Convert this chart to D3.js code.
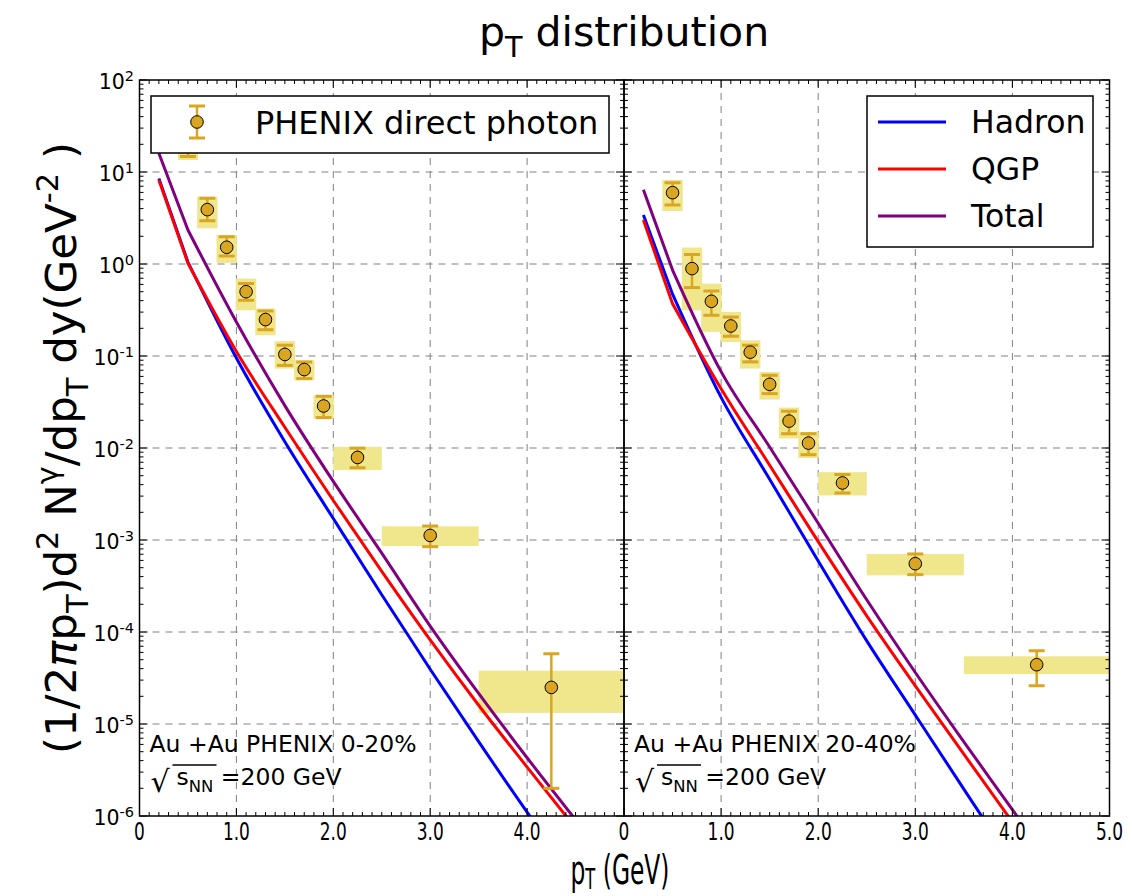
<!DOCTYPE html>
<html><head><meta charset="utf-8">
<script src="https://cdn.jsdelivr.net/npm/d3@7"></script>
<style>body{margin:0;background:#fff} text{font-family:"DejaVu Sans",sans-serif;fill:#000}</style>
</head><body><svg id="c" width="1132" height="896"></svg>
<script>
// ---------------- data ----------------
const curvePT = [0.2, 0.5, 1.0, 1.5, 2.0, 2.5, 3.0, 3.5, 4.0, 4.5];
const hadron020  = [8.5, 1.05, 0.095, 0.0117, 1.71e-3, 2.54e-4, 3.94e-5, 6.43e-6, 1.1e-6, 2.0e-7];
const qgp020     = [8.2, 1.02, 0.112, 0.0168, 2.69e-3, 4.57e-4, 8.2e-5, 1.6e-5, 3.4e-6, 7.4e-7];
const total020   = [16, 2.34, 0.234, 0.0289, 4.33e-3, 7.2e-4, 1.16e-4, 2.15e-5, 4.3e-6, 9.1e-7];
const hadron2040 = [3.4, 0.47, 0.0355, 4.58e-3, 5.9e-4, 8.0e-5, 1.25e-5, 1.96e-6, 3.1e-7, 5e-8];
const qgp2040    = [3.0, 0.37, 0.044, 6.5e-3, 9.6e-4, 1.5e-4, 2.6e-5, 4.7e-6, 8.6e-7, 1.6e-7];
const total2040  = [6.4, 0.86, 0.0676, 0.01026, 1.52e-3, 2.24e-4, 3.63e-5, 6.4e-6, 1.17e-6, 2.1e-7];

const dataPT   = [0.5, 0.7, 0.9, 1.1, 1.3, 1.5, 1.7, 1.9, 2.25, 3.0, 4.25];
const binLo    = [0.395, 0.595, 0.795, 0.995, 1.195, 1.395, 1.595, 1.795, 2.0, 2.5, 3.5];
const binHi    = [0.605, 0.805, 1.005, 1.205, 1.405, 1.605, 1.805, 2.005, 2.5, 3.5, 5.0];
const y020     = [20, 3.9, 1.52, 0.50, 0.249, 0.104, 0.0712, 0.0286, 0.0079, 0.00112, 2.5e-5];
const errLo020 = [14.7, 2.96, 1.22, 0.403, 0.193, 0.079, 0.0568, 0.0214, 0.0061, 0.000846, 2.0e-6];
const errHi020 = [27, 5.18, 1.98, 0.612, 0.309, 0.131, 0.086, 0.0365, 0.00996, 0.00142, 5.8e-5];
const sysLo020 = [13.5, 2.44, 1.03, 0.314, 0.168, 0.073, 0.0545, 0.0209, 0.00575, 0.00086, 1.32e-5];
const sysHi020 = [30, 5.39, 2.07, 0.694, 0.328, 0.145, 0.09, 0.0374, 0.0103, 0.00141, 3.8e-5];
const y2040     = [5.96, 0.891, 0.393, 0.212, 0.11, 0.0492, 0.0196, 0.0113, 0.00417, 0.000553, 4.41e-5];
const errLo2040 = [4.38, 0.554, 0.277, 0.164, 0.0863, 0.039, 0.0143, 0.00846, 0.00324, 0.00042, 2.61e-5];
const errHi2040 = [7.65, 1.27, 0.509, 0.265, 0.131, 0.0617, 0.0251, 0.0143, 0.00515, 0.000705, 6.26e-5];
const sysLo2040 = [3.77, 0.314, 0.183, 0.142, 0.073, 0.0336, 0.0127, 0.0078, 0.00305, 0.000413, 3.49e-5];
const sysHi2040 = [8.18, 1.51, 0.612, 0.301, 0.148, 0.067, 0.0275, 0.0149, 0.00546, 0.000705, 5.44e-5];

const xTickLeft  = [0, 1, 2, 3, 4];
const xTickRight = [0, 1, 2, 3, 4, 5];
const xTickText  = ["0", "1.0", "2.0", "3.0", "4.0", "5.0"];
const yTickExp   = [2, 1, 0, -1, -2, -3, -4, -5, -6];
const seriesNames = ["Hadron", "QGP", "Total"];
const seriesColors = ["#0000ff", "#ff0000", "#800080"];

// ---------------- layout ----------------
const svg = d3.select("#c");
const yTop = 80, yBot = 816;
const y = d3.scaleLog().domain([1e-6, 1e2]).range([yBot, yTop]);
const panels = [
  {x: d3.scaleLinear().domain([0, 5]).range([139.5, 624]), ticks: xTickLeft,
   curves: [hadron020, qgp020, total020], yv: y020, eL: errLo020, eH: errHi020, sL: sysLo020, sH: sysHi020,
   label: "Au +Au PHENIX 0-20%"},
  {x: d3.scaleLinear().domain([0, 5]).range([624, 1109.5]), ticks: xTickRight,
   curves: [hadron2040, qgp2040, total2040], yv: y2040, eL: errLo2040, eH: errHi2040, sL: sysLo2040, sH: sysHi2040,
   label: "Au +Au PHENIX 20-40%"}
];
const gold = "#daa520", band = "#f0e68c";

function rich(sel, parts, fs, subOff) {
  let cur = 0;
  const so = subOff === undefined ? 0.28 : subOff;
  parts.forEach(p => {
    const m = p.m || "n";
    const off = m === "sub" ? so * fs : m === "sup" ? -0.42 * fs : 0;
    const ts = sel.append("tspan").text(p.t).attr("dy", off - cur)
      .attr("font-size", m === "n" ? fs : fs * 0.7);
    if (p.i) ts.attr("font-style", "italic");
    cur = off;
  });
}

const minorX = d3.range(0, 50.001, 1).map(d => d / 10).filter(d => Math.abs(d - Math.round(d)) > 1e-6);
const minorY = [];
for (let e = -6; e < 2; e++) for (let k = 2; k <= 9; k++) minorY.push(k * Math.pow(10, e));

panels.forEach((P, pi) => {
  const x = P.x, x0 = x.range()[0], x1 = x.range()[1];
  const g = svg.append("g");
  const cid = "clip" + pi;
  svg.append("clipPath").attr("id", cid).append("rect")
    .attr("x", x0).attr("y", yTop).attr("width", x1 - x0).attr("height", yBot - yTop);

  g.selectAll(".gx").data([1, 2, 3, 4]).join("line")
    .attr("x1", d => x(d)).attr("x2", d => x(d)).attr("y1", yTop).attr("y2", yBot)
    .attr("stroke", "#808080").attr("stroke-width", 1).attr("stroke-dasharray", "7,6");
  g.selectAll(".gy").data(yTickExp.filter(e => e > -6 && e < 2)).join("line")
    .attr("x1", x0).attr("x2", x1).attr("y1", e => y(Math.pow(10, e))).attr("y2", e => y(Math.pow(10, e)))
    .attr("stroke", "#808080").attr("stroke-width", 1).attr("stroke-dasharray", "7,6");

  const pg = g.append("g").attr("clip-path", `url(#${cid})`);
  pg.selectAll("rect.sys").data(dataPT).join("rect")
    .attr("x", (d, i) => x(binLo[i])).attr("width", (d, i) => x(binHi[i]) - x(binLo[i]))
    .attr("y", (d, i) => y(P.sH[i])).attr("height", (d, i) => y(P.sL[i]) - y(P.sH[i]))
    .attr("fill", band);
  const lineLin = d3.line().x(d => x(d[0])).y(d => y(d[1]));
  const lineSmooth = d3.line().x(d => x(d[0])).y(d => y(d[1])).curve(d3.curveMonotoneX);
  P.curves.forEach((c, ci) => {
    const pts = curvePT.map((p, i) => [p, c[i]]);
    const d = lineLin(pts.slice(0, 2)) + lineSmooth(pts.slice(1)).replace(/^M[^A-Za-z]*/, "L" + x(pts[1][0]) + "," + y(pts[1][1]));
    pg.append("path").attr("d", d)
      .attr("fill", "none").attr("stroke", seriesColors[ci]).attr("stroke-width", 3).attr("stroke-linejoin", "round");
  });
  pg.selectAll("line.eb").data(dataPT).join("line")
    .attr("x1", d => x(d)).attr("x2", d => x(d))
    .attr("y1", (d, i) => y(P.eH[i])).attr("y2", (d, i) => y(P.eL[i]))
    .attr("stroke", gold).attr("stroke-width", 2.5);
  ["eH", "eL"].forEach(k => {
    pg.selectAll("line.cap" + k).data(dataPT).join("line")
      .attr("x1", d => x(d) - 8).attr("x2", d => x(d) + 8)
      .attr("y1", (d, i) => y(P[k][i])).attr("y2", (d, i) => y(P[k][i]))
      .attr("stroke", gold).attr("stroke-width", 3);
  });
  pg.selectAll("circle").data(dataPT).join("circle")
    .attr("cx", d => x(d)).attr("cy", (d, i) => y(P.yv[i])).attr("r", 6.3)
    .attr("fill", gold).attr("stroke", "#000").attr("stroke-width", 1);

  g.append("rect").attr("x", x0).attr("y", yTop).attr("width", x1 - x0).attr("height", yBot - yTop)
    .attr("fill", "none").attr("stroke", "#000").attr("stroke-width", 1.5);
  const tk = g.append("g").attr("stroke", "#000").attr("stroke-width", 1);
  [[yBot, -1], [yTop, 1]].forEach(([yy, s]) => {
    tk.selectAll(null).data(d3.range(0, 6)).join("line")
      .attr("x1", d => x(d)).attr("x2", d => x(d)).attr("y1", yy).attr("y2", yy + s * 8);
    tk.selectAll(null).data(minorX).join("line")
      .attr("x1", d => x(d)).attr("x2", d => x(d)).attr("y1", yy).attr("y2", yy + s * 4);
  });
  [[x0, 1], [x1, -1]].forEach(([xx, s]) => {
    tk.selectAll(null).data(yTickExp).join("line")
      .attr("x1", xx).attr("x2", xx + s * 8).attr("y1", e => y(Math.pow(10, e))).attr("y2", e => y(Math.pow(10, e)));
    tk.selectAll(null).data(minorY).join("line")
      .attr("x1", xx).attr("x2", xx + s * 4).attr("y1", d => y(d)).attr("y2", d => y(d));
  });
  g.selectAll("text.xt").data(P.ticks).join("text")
    .attr("transform", d => `translate(${x(d)},${yBot + 24}) scale(0.68,1)`)
    .attr("text-anchor", "middle").attr("font-size", 25).text(d => xTickText[d]);

  g.append("text").attr("x", x0 + 10).attr("y", 752).attr("font-size", 23.5).text(P.label);
  g.append("text").attr("x", x0 + 11).attr("y", 792).attr("font-size", 30).text("\u221A");
  g.append("line").attr("x1", x0 + 33).attr("x2", x0 + 77).attr("y1", 765).attr("y2", 765)
    .attr("stroke", "#000").attr("stroke-width", 1.5);
  const t2 = g.append("text").attr("x", x0 + 37).attr("y", 785).attr("font-size", 23.5);
  rich(t2, [{t: "s"}, {t: "NN", m: "sub"}, {t: " =200 GeV"}], 23.5);
});

const yl = svg.selectAll("text.yt").data(yTickExp).join("text")
  .attr("x", 134).attr("y", e => y(Math.pow(10, e)) + 9).attr("text-anchor", "end").attr("font-size", 20.5);
yl.each(function(e) {
  const t = d3.select(this);
  t.append("tspan").text("10");
  t.append("tspan").text(e < 0 ? "-" + (-e) : String(e)).attr("font-size", 14.5).attr("dy", -8);
});

const L1 = svg.append("g");
L1.append("rect").attr("x", 151).attr("y", 96).attr("width", 458).attr("height", 57)
  .attr("fill", "#fff").attr("stroke", "#000").attr("stroke-width", 1.5);
L1.append("line").attr("x1", 197).attr("x2", 197).attr("y1", 106).attr("y2", 138).attr("stroke", gold).attr("stroke-width", 2.5);
[106, 138].forEach(v => L1.append("line").attr("x1", 189).attr("x2", 205).attr("y1", v).attr("y2", v).attr("stroke", gold).attr("stroke-width", 3));
L1.append("circle").attr("cx", 197).attr("cy", 122).attr("r", 6.3).attr("fill", gold).attr("stroke", "#000");
L1.append("text").attr("x", 255).attr("y", 134).attr("font-size", 32).text("PHENIX direct photon");

const L2 = svg.append("g");
L2.append("rect").attr("x", 867).attr("y", 96).attr("width", 226).attr("height", 151)
  .attr("fill", "#fff").attr("stroke", "#000").attr("stroke-width", 1.5);
seriesNames.forEach((n, i) => {
  const yy = 122 + i * 47;
  L2.append("line").attr("x1", 878).attr("x2", 946).attr("y1", yy).attr("y2", yy)
    .attr("stroke", seriesColors[i]).attr("stroke-width", 3);
  L2.append("text").attr("x", 971).attr("y", yy + 11).attr("font-size", 31.5).text(n);
});

const tt = svg.append("text").attr("x", 624).attr("y", 46).attr("text-anchor", "middle").attr("font-size", 41);
rich(tt, [{t: "p"}, {t: "T", m: "sub"}, {t: " distribution"}], 41);

const xl = svg.append("text").attr("transform", "translate(620,884) scale(0.57,1)")
  .attr("text-anchor", "middle").attr("font-size", 41);
rich(xl, [{t: "p"}, {t: "T", m: "sub"}, {t: " (GeV)"}], 41, 0.12);

const ylab = svg.append("text").attr("transform", "translate(76,448) rotate(-90)")
  .attr("text-anchor", "middle").attr("font-size", 43.5);
rich(ylab, [{t: "(1/2"}, {t: "\u03C0", i: true}, {t: "p"}, {t: "T", m: "sub"}, {t: ")d"}, {t: "2", m: "sup"},
  {t: " N"}, {t: "\u03B3", m: "sup"}, {t: "/dp"}, {t: "T", m: "sub"}, {t: " dy(GeV"}, {t: "-2", m: "sup"}, {t: " )"}], 43.5);
</script></body></html>
